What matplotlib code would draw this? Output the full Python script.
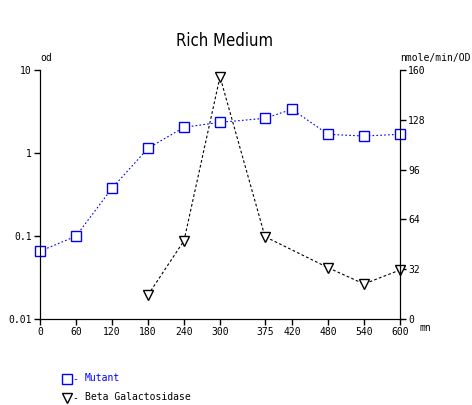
import matplotlib
matplotlib.use('Agg')
import matplotlib.pyplot as plt
from matplotlib.lines import Line2D
from matplotlib import font_manager

# 数据
times = [0, 60, 120, 180, 240, 300, 375, 420, 480, 540, 600]
mutant_od = [0.0655, 0.0996, 0.376, 1.14, 2.04, 2.34, 2.62, 3.36, 1.68, 1.60, 1.68]
beta_times = [180, 240, 300, 375, 480, 540, 600]
beta_gal = [15.4, 50.3, 155.7, 52.9, 33.0, 22.5, 31.5]
x_ticks = [0, 60, 120, 180, 240, 300, 375, 420, 480, 540, 600]
left_ticks = [0.01, 0.1, 1, 10]
left_labels = ['0.01', '0.1', '1', '10']
right_ticks = [0, 32, 64, 96, 128, 160]

mono = 'DejaVu Sans Mono'
fs = 7
names = {f.name for f in font_manager.fontManager.ttflist}
title_family = 'Liberation Sans Narrow' if 'Liberation Sans Narrow' in names else 'DejaVu Sans'

W, H = 472, 405
fig = plt.figure(figsize=(W / 100, H / 100), dpi=100)
ax = fig.add_axes([40 / W, (H - 319) / H, 360 / W, 249 / H])

ax.plot(times, mutant_od, color='blue', ls=(0, (1.5, 2)), lw=0.8,
        marker='s', ms=7.5, mfc='white', mec='blue', mew=1.0, clip_on=False)
ax.set_yscale('log')
ax.set_ylim(0.01, 10)
ax.set_xlim(0, 600)
ax.set_xticks(x_ticks)
ax.set_xticklabels([str(t) for t in x_ticks], family=mono, fontsize=fs)
ax.set_yticks(left_ticks)
ax.set_yticklabels(left_labels, family=mono, fontsize=fs)
ax.minorticks_off()
ax.spines['top'].set_visible(False)
ax.tick_params(direction='out', length=4, width=1, pad=2)

ax2 = ax.twinx()
ax2.plot(beta_times, beta_gal, color='black', ls=(0, (2.5, 2)), lw=0.8,
         marker='v', ms=7, mfc='white', mec='black', mew=1.0, clip_on=False)
ax2.set_ylim(0, 160)
ax2.set_yticks(right_ticks)
ax2.set_yticklabels([str(t) for t in right_ticks], family=mono, fontsize=fs)
ax2.spines['top'].set_visible(False)
ax2.tick_params(direction='out', length=4, width=1, pad=2)
ax.set_zorder(ax2.get_zorder() + 1)
ax.patch.set_visible(False)

fig.text(224 / W, 1 - 41 / H, 'Rich Medium', ha='center', va='center',
         family=title_family, stretch='condensed', fontsize=12)
fig.text(40 / W, 1 - 58 / H, 'od', ha='left', va='center', family=mono, fontsize=fs)
fig.text(400 / W, 1 - 58 / H, 'nmole/min/OD', ha='left', va='center', family=mono, fontsize=fs)
fig.text(419 / W, 1 - 328 / H, 'mn', ha='left', va='center', family=mono, fontsize=fs)

# 图例
fig.add_artist(Line2D([67 / W], [1 - 379 / H], marker='s', ms=7.5, mfc='white',
                      mec='blue', mew=1.0, transform=fig.transFigure))
fig.text(72 / W, 1 - 379 / H, '-', color='blue', va='center', family=mono, fontsize=fs)
fig.text(85 / W, 1 - 378 / H, 'Mutant', color='blue', va='center', family=mono, fontsize=fs)
fig.add_artist(Line2D([67 / W], [1 - 398 / H], marker='v', ms=7, mfc='white',
                      mec='black', mew=1.0, transform=fig.transFigure))
fig.text(72 / W, 1 - 398 / H, '-', color='black', va='center', family=mono, fontsize=fs)
fig.text(85 / W, 1 - 397 / H, 'Beta Galactosidase', color='black', va='center',
         family=mono, fontsize=fs)

fig.savefig('out.png', dpi=100)
